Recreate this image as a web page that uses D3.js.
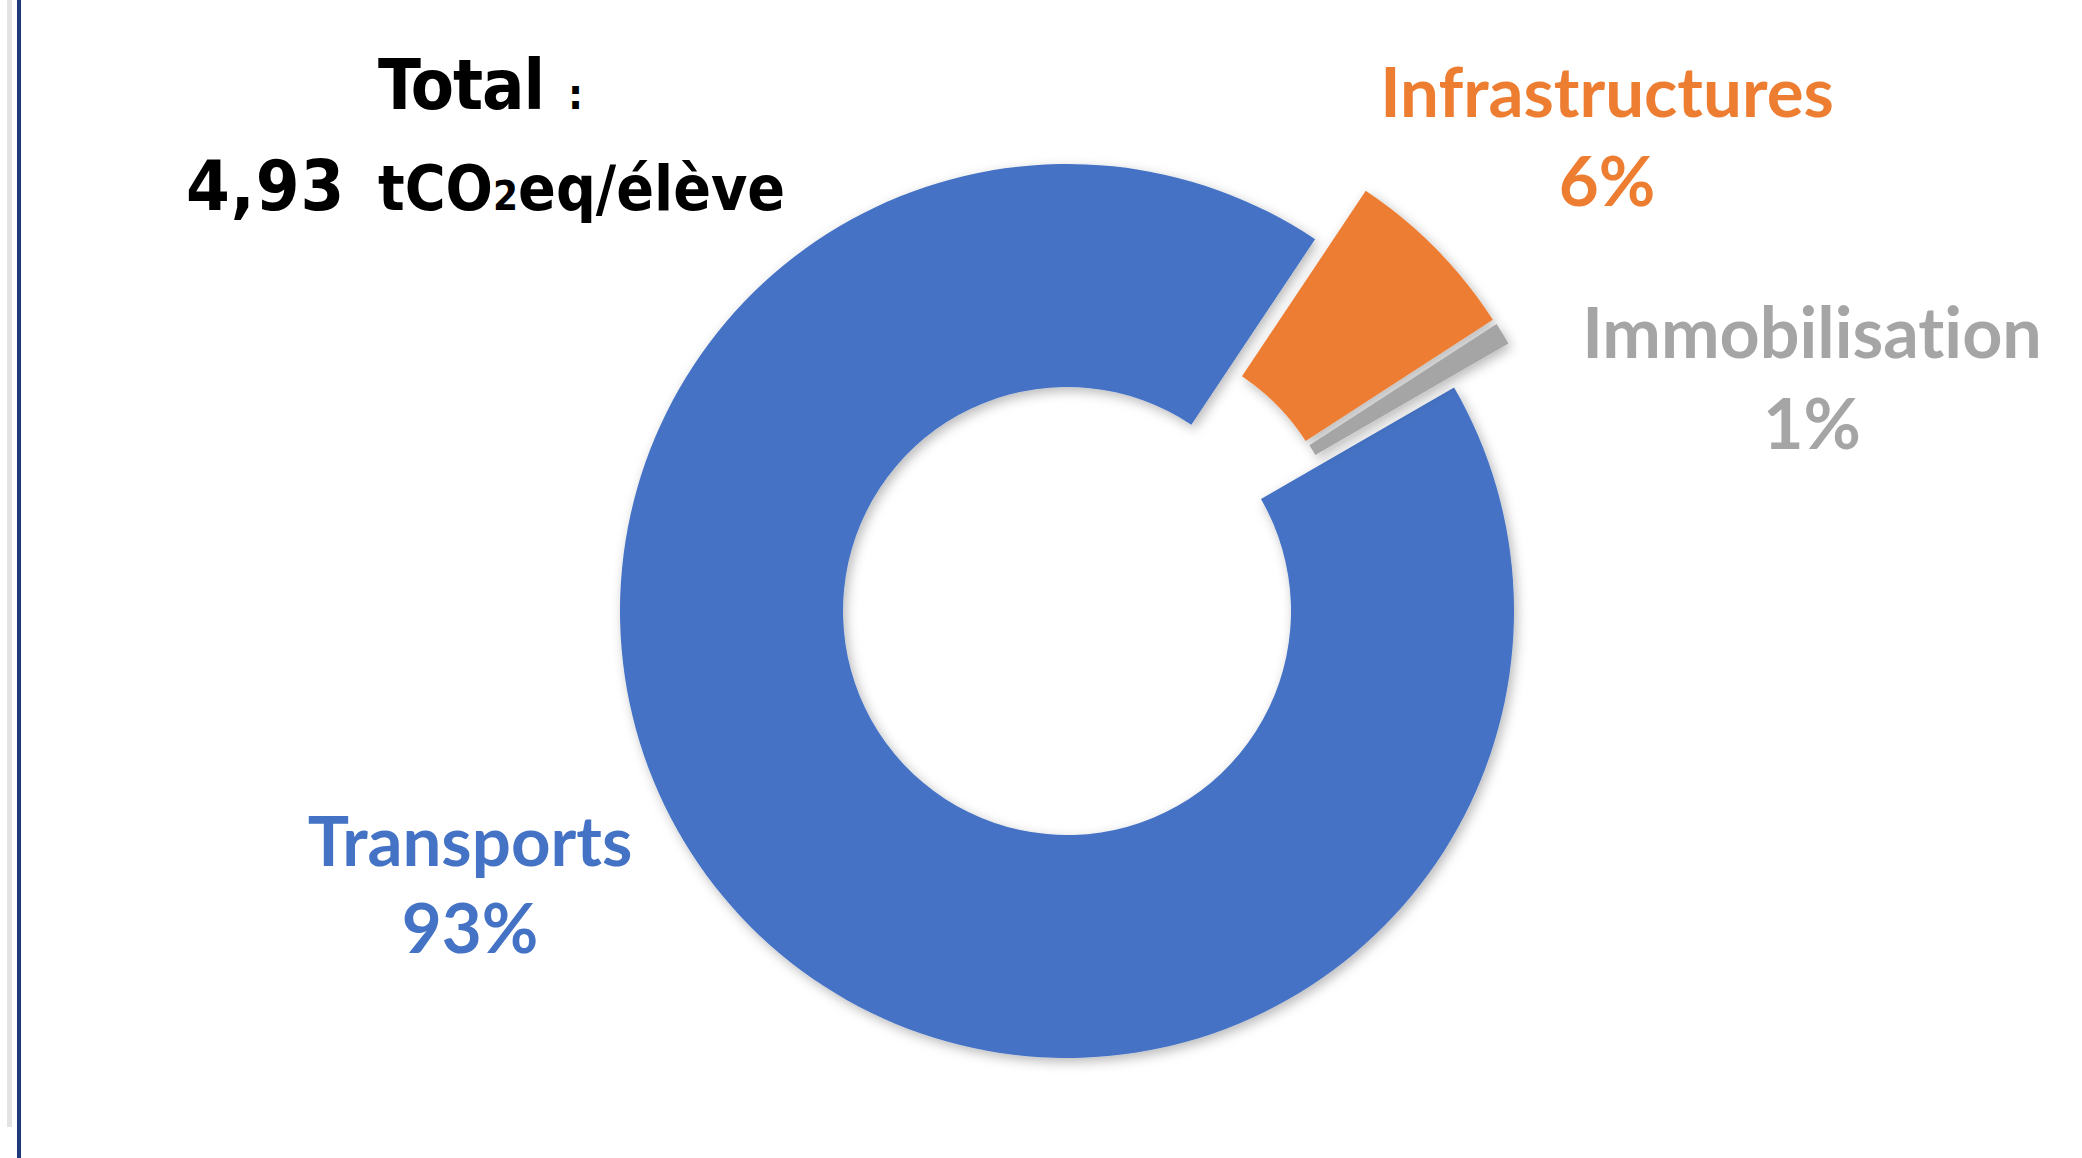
<!DOCTYPE html>
<html><head><meta charset="utf-8">
<script src="https://cdn.jsdelivr.net/npm/d3@7"></script>
<style>html,body{margin:0;padding:0;background:#fff;overflow:hidden} text{font-variant-ligatures:none}</style>
</head><body>
<script>
const categories = ["Transports", "Infrastructures", "Immobilisation"];
const values = [4.57, 0.32, 0.04];           // tCO2eq / élève
const colors = ["#4472C4", "#ED7D31", "#A5A5A5"];
const exploded = [false, true, true];
const totalLabel = "Total";
const unitParts = ["tCO", "2", "eq/élève"];

const W = 2082, H = 1158;
const cx = 1067, cy = 611, rOuter = 447, rInner = 224, explodeDist = 70;

const svg = d3.select("body").append("svg").attr("width", W).attr("height", H);
const defs = svg.append("defs");
const f = defs.append("filter").attr("id","sh").attr("x","-20%").attr("y","-20%").attr("width","140%").attr("height","140%");
f.append("feDropShadow").attr("dx",3).attr("dy",4).attr("stdDeviation",6).attr("flood-color","#000").attr("flood-opacity",0.28);

// left frame lines
svg.append("line").attr("x1",9.5).attr("x2",9.5).attr("y1",0).attr("y2",1127).attr("stroke","#e3e3e3").attr("stroke-width",5);
svg.append("line").attr("x1",19).attr("x2",19).attr("y1",0).attr("y2",H).attr("stroke","#1F3A78").attr("stroke-width",4);

const total = d3.sum(values);
const pie = d3.pie().sort(null).startAngle(Math.PI/3).endAngle(Math.PI/3 + 2*Math.PI);
const arcs = pie(values);
const arc = d3.arc().innerRadius(rInner).outerRadius(rOuter);

// exploded slices move together, mostly along the group's bisector
const ex = arcs.filter((d,i) => exploded[i]);
const groupMid = (d3.min(ex, d => d.startAngle) + d3.max(ex, d => d.endAngle)) / 2;

const g = svg.append("g").attr("transform", `translate(${cx},${cy})`);
g.selectAll("path").data(arcs).join("path")
  .attr("d", arc)
  .attr("fill", (d,i) => colors[i])
  .attr("filter","url(#sh)")
  .attr("transform", (d,i) => {
    if (!exploded[i]) return null;
    const m = (d.startAngle + d.endAngle)/2;
    const a = groupMid + (m - groupMid) * 0.35;
    return `translate(${explodeDist*Math.sin(a)},${-explodeDist*Math.cos(a)})`;
  });

const fontLbl = "Lato, 'Open Sans', sans-serif";
const labelPos = [
  {x:470, y1:866, y2:953, fs:69},
  {x:1607, y1:117, y2:206, fs:69},
  {x:1812, y1:358, y2:449, fs:70}
];
const pct = d3.format(".0%");
arcs.forEach((d,i) => {
  const p = labelPos[i];
  const t = svg.append("text").attr("text-anchor","middle")
    .attr("font-family", fontLbl).attr("font-weight",700)
    .attr("font-size",p.fs).attr("fill",colors[i]);
  t.append("tspan").attr("x",p.x).attr("y",p.y1).text(categories[i]);
  t.append("tspan").attr("x",p.x).attr("y",p.y2).text(pct(values[i]/total));
});

// Total text
const fontT = "'DejaVu Sans Condensed', 'DejaVu Sans', sans-serif";
const t1 = svg.append("text").attr("y",109)
  .attr("font-family",fontT).attr("font-weight",700).attr("font-stretch","condensed").attr("fill","#000");
t1.append("tspan").attr("x",378).attr("font-size",70).attr("letter-spacing",-1).text(totalLabel);
t1.append("tspan").attr("x",568).attr("font-size",42).text(":");

const t2 = svg.append("text").attr("y",210)
  .attr("font-family",fontT).attr("font-weight",700).attr("font-stretch","condensed").attr("fill","#000");
t2.append("tspan").attr("x",186).attr("font-size",70).attr("letter-spacing",1).text(d3.format(",.2f")(total).replace(".", ","));
t2.append("tspan").attr("x",378).attr("font-size",62).attr("letter-spacing",0).text(unitParts[0]);
t2.append("tspan").attr("font-size",40).attr("letter-spacing",0).text(unitParts[1]);
t2.append("tspan").attr("font-size",62).attr("letter-spacing",0).text(unitParts[2]);
</script>
</body></html>
